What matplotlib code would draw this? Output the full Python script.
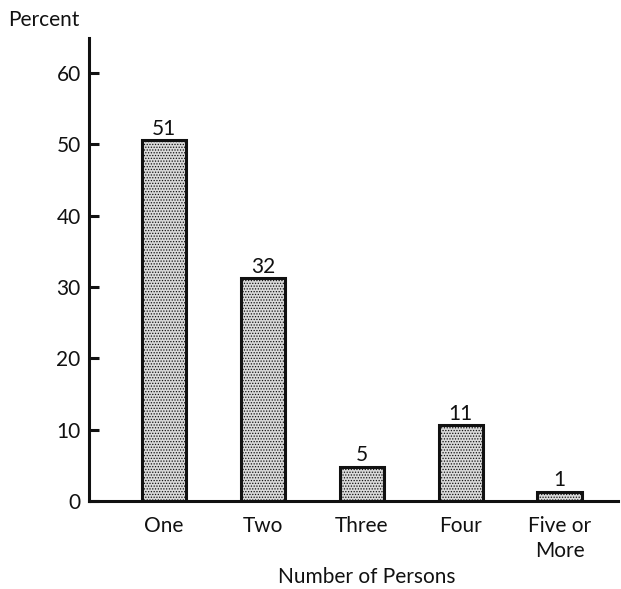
import matplotlib
matplotlib.use("Agg")
import matplotlib.pyplot as plt

categories = ["One", "Two", "Three", "Four", "Five or\nMore"]
percents = [51, 32, 5, 11, 1]
bar_heights = [50.6, 31.2, 4.8, 10.6, 1.3]
yticks = [0, 10, 20, 30, 40, 50, 60]

plt.rcParams['font.family'] = ['Lato', 'DejaVu Sans']
plt.rcParams['hatch.color'] = '#6a6a6a'
plt.rcParams['hatch.linewidth'] = 0.6

fs = 15

fig = plt.figure(figsize=(6.21, 5.89), dpi=100)
ax = fig.add_axes([89 / 621, 1 - 501 / 589, (618 - 89) / 621, (501 - 38) / 589])

x = list(range(len(categories)))
bars = ax.bar(x, bar_heights, width=0.45, color='#dadada', edgecolor='#111111',
              linewidth=2.2, hatch='......', zorder=3)

for xi, h, p in zip(x, bar_heights, percents):
    ax.text(xi, h + 0.2, str(p), ha='center', va='bottom', fontsize=fs, color='#111111')

ax.set_xlim(-0.76, 4.59)
ax.set_ylim(0, 64.9)
ax.set_yticks(yticks)
ax.set_yticklabels([str(t) for t in yticks], fontsize=fs, color='#111111')
ax.set_xticks(x)
ax.set_xticklabels(categories, fontsize=fs, color='#111111', linespacing=1.3)

ax.tick_params(axis='y', direction='in', length=7, width=2.2, pad=6, color='#111111')
ax.tick_params(axis='x', length=0, pad=11)

for side in ['top', 'right']:
    ax.spines[side].set_visible(False)
for side in ['left', 'bottom']:
    ax.spines[side].set_linewidth(2.2)
    ax.spines[side].set_color('#111111')

fig.text(367 / 621, 1 - 577 / 589, "Number of Persons", fontsize=fs, color='#111111',
         ha='center', va='center')
fig.text(8 / 621, 1 - 20 / 589, "Percent", fontsize=fs, color='#111111', va='center', ha='left')

plt.savefig("out.png", dpi=100)
